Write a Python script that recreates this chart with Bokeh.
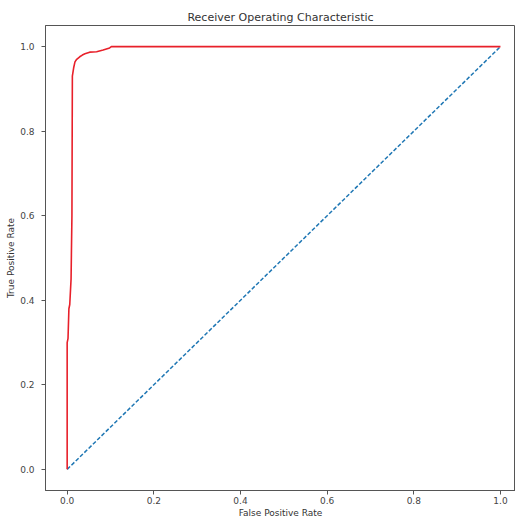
from bokeh.plotting import figure
from bokeh.models import Range1d, FixedTicker
from bokeh.embed import file_html
from bokeh.resources import INLINE

# ROC curve points
fpr = [0.0, 0.0, 0.002, 0.004, 0.006, 0.009, 0.011, 0.012, 0.015, 0.018, 0.022,
       0.029, 0.035, 0.041, 0.052, 0.068, 0.083, 0.098, 0.102, 1.0]
tpr = [0.0, 0.30, 0.31, 0.38, 0.39, 0.45, 0.60, 0.93, 0.95, 0.964, 0.970,
       0.976, 0.980, 0.983, 0.987, 0.988, 0.992, 0.997, 1.0, 1.0]
diag_x = [0.0, 1.0]
diag_y = [0.0, 1.0]
ticks = [0.0, 0.2, 0.4, 0.6, 0.8, 1.0]
tick_labels = ["0.0", "0.2", "0.4", "0.6", "0.8", "1.0"]

FONT = "DejaVu Sans"

p = figure(frame_width=470, frame_height=465,
           x_range=Range1d(-0.05, 1.0347), y_range=Range1d(-0.05, 1.05),
           output_backend="svg", toolbar_location=None,
           title="Receiver Operating Characteristic",
           min_border_left=45, min_border_right=0, min_border_top=25, min_border_bottom=27)

p.title.align = "center"
p.title.text_font = FONT
p.title.text_font_size = "11px"
p.title.text_font_style = "normal"
p.title.text_color = "#333333"
p.title.offset = 0
p.title.standoff = 4

p.outline_line_color = "#555555"
p.outline_line_width = 1
p.xgrid.grid_line_color = None
p.ygrid.grid_line_color = None
p.background_fill_color = "white"
p.border_fill_color = "white"

for ax in (p.xaxis[0], p.yaxis[0]):
    ax.ticker = FixedTicker(ticks=ticks)
    ax.major_label_overrides = {t: l for t, l in zip(ticks, tick_labels)}
    ax.minor_tick_line_color = None
    ax.major_tick_in = 0
    ax.major_tick_out = 4
    ax.major_tick_line_color = "#555555"
    ax.axis_line_color = "#555555"
    ax.major_label_text_font = FONT
    ax.major_label_text_font_size = "9px"
    ax.major_label_text_color = "#444444"
    ax.axis_label_text_font = FONT
    ax.axis_label_text_font_size = "9px"
    ax.axis_label_text_font_style = "normal"
    ax.axis_label_text_color = "#333333"

p.xaxis.axis_label = "False Positive Rate"
p.yaxis.axis_label = "True Positive Rate"
p.xaxis.major_label_standoff = 2
p.xaxis.axis_label_standoff = 1
p.yaxis.major_label_standoff = 7
p.yaxis.axis_label_standoff = 1

p.line(diag_x, diag_y, line_color="#1f77b4", line_width=1.5, line_dash="4 2")
p.line(fpr, tpr, line_color="#e8202a", line_width=1.6)

open("out.html", "w").write(file_html(p, INLINE))
